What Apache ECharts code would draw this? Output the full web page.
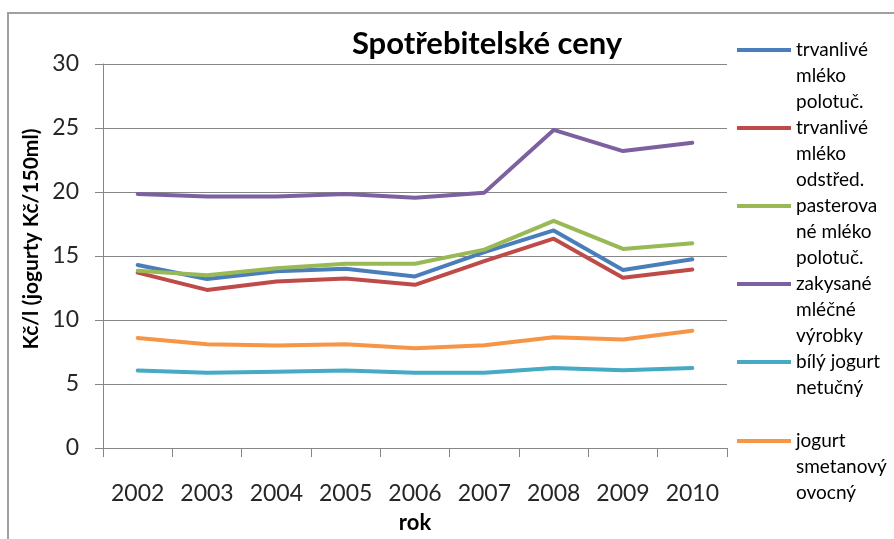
<!DOCTYPE html>
<html>
<head>
<meta charset="utf-8">
<script src="https://cdn.jsdelivr.net/npm/echarts@6/dist/echarts.min.js"></script>
<style>
  html, body { margin: 0; padding: 0; background: #fff; }
  #chart { width: 894px; height: 539px; }
</style>
</head>
<body>
<div id="chart"></div>
<script>
// years on the x axis
const years = ['2002', '2003', '2004', '2005', '2006', '2007', '2008', '2009', '2010']

// series names, and how the legend wraps them
const names = [
  'trvanlivé mléko polotuč.',
  'trvanlivé mléko odstřed.',
  'pasterované mléko polotuč.',
  'zakysané mléčné výrobky',
  'bílý jogurt netučný',
  'jogurt smetanový ovocný'
]
const legendLabels = [
  'trvanlivé\nmléko\npolotuč.',
  'trvanlivé\nmléko\nodstřed.',
  'pasterova\nné mléko\npolotuč.',
  'zakysané\nmléčné\nvýrobky',
  'bílý jogurt\nnetučný\n ',
  'jogurt\nsmetanový\novocný'
]

// prices (Kč/l, yogurts Kč/150ml)
const mlekoPolotucne = [14.3, 13.2, 13.8, 14.0, 13.4, 15.3, 17.0, 13.9, 14.75]
const mlekoOdstredene = [13.7, 12.35, 13.0, 13.25, 12.75, 14.6, 16.35, 13.3, 13.95]
const pasterovane = [13.85, 13.5, 14.05, 14.4, 14.4, 15.5, 17.75, 15.55, 16.0]
const zakysane = [19.85, 19.65, 19.65, 19.85, 19.55, 19.95, 24.85, 23.2, 23.85]
const bilyJogurt = [6.05, 5.87, 5.95, 6.05, 5.87, 5.87, 6.25, 6.07, 6.25]
const smetanovyJogurt = [8.6, 8.1, 8.0, 8.1, 7.8, 8.02, 8.66, 8.48, 9.16]

const values = [mlekoPolotucne, mlekoOdstredene, pasterovane, zakysane, bilyJogurt, smetanovyJogurt]
const colors = ['#4a7ebb', '#be4b48', '#98b954', '#7d60a0', '#46aac5', '#f69546']

const font = 'Lato, "Open Sans", sans-serif'
const axisGrey = '#868686'
const legendLine = 26

const chart = echarts.init(document.getElementById('chart'))

// one legend per series, so each icon sits on the first line of its label
// (two blank lines on top keep the label centred on the icon)
const legends = names.map((name, i) => ({
  orient: 'vertical',
  left: 737,
  top: 50 + i * 78 - 13 - 2 * legendLine + (i === 5 ? 1 : 0),
  padding: 0,
  itemWidth: 54,
  itemHeight: 4,
  icon: 'rect',
  data: [name],
  formatter: () => ' \n \n' + legendLabels[i],
  textStyle: {
    fontFamily: font,
    fontSize: 19,
    color: '#000',
    lineHeight: legendLine
  }
}))

const option = {
  animation: false,
  color: colors,
  textStyle: { fontFamily: font },
  title: {
    text: 'Spotřebitelské ceny',
    left: 482,
    top: 23,
    textAlign: 'center',
    textStyle: { fontFamily: font, fontSize: 31, fontWeight: 'bold', color: '#000' }
  },
  graphic: [{
    // chart frame
    type: 'rect',
    shape: { x: 8, y: 13, width: 900, height: 540 },
    style: { fill: 'none', stroke: '#a0a0a0', lineWidth: 2 },
    silent: true
  }],
  legend: legends,
  grid: { left: 103, right: 167, top: 64, bottom: 81 },
  xAxis: {
    type: 'category',
    data: years,
    name: 'rok',
    nameLocation: 'middle',
    nameGap: 64,
    nameTextStyle: { fontFamily: font, fontSize: 22, fontWeight: 'bold', color: '#000' },
    axisLine: { lineStyle: { color: axisGrey, width: 1 } },
    axisTick: { show: true, length: 9, lineStyle: { color: axisGrey } },
    axisLabel: { interval: 0, fontFamily: font, fontSize: 23, color: '#262626', margin: 34 }
  },
  yAxis: {
    type: 'value',
    min: 0,
    max: 30,
    interval: 5,
    name: 'Kč/l (jogurty Kč/150ml)',
    nameLocation: 'middle',
    nameGap: 57,
    nameTextStyle: { fontFamily: font, fontSize: 21, fontWeight: 'bold', color: '#000', padding: [0, 0, 0, 34] },
    axisLine: { show: true, lineStyle: { color: axisGrey, width: 1 } },
    axisTick: { show: true, length: 8, lineStyle: { color: axisGrey } },
    axisLabel: { fontFamily: font, fontSize: 23, color: '#262626', margin: 24 },
    splitLine: { lineStyle: { color: axisGrey, width: 1 } }
  },
  series: names.map((name, i) => ({
    name: name,
    type: 'line',
    data: values[i],
    symbol: 'none',
    lineStyle: { width: 4, color: colors[i], cap: 'round', join: 'round' },
    itemStyle: { color: colors[i] }
  }))
}

chart.setOption(option)
</script>
</body>
</html>
